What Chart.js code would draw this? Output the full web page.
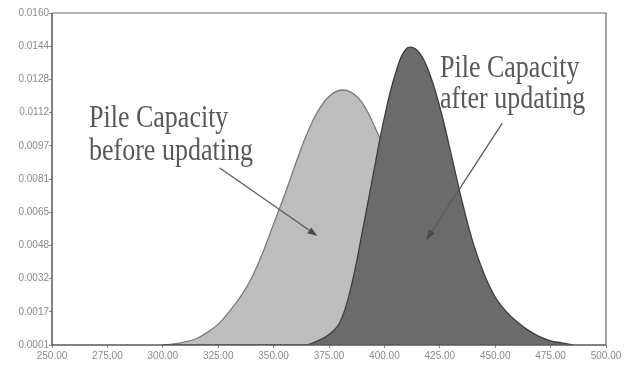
<!DOCTYPE html>
<html>
<head>
<meta charset="utf-8">
<script src="https://cdn.jsdelivr.net/npm/chart.js@4/dist/chart.umd.min.js"></script>
<style>
  html, body { margin: 0; padding: 0; background: #ffffff; }
  #wrap { width: 627px; height: 369px; position: relative; }
</style>
</head>
<body>
<div id="wrap"><canvas id="c" width="627" height="369"></canvas></div>
<script>
// Pile capacity (kN) sample points shared by both density curves
const capacity = [300, 305, 310, 315, 320, 325, 330, 335, 340, 345, 350, 355, 360, 365, 370, 375,
                  380, 385, 390, 395, 400, 405, 410, 415, 420, 425, 430, 435, 440, 445, 450, 455,
                  460, 465, 470, 475, 480, 485];

// Probability density before updating
const densityBefore = [0.0001, 0.00015, 0.00025, 0.0004, 0.0007, 0.0011, 0.0017, 0.0024, 0.0033, 0.0045,
                       0.0059, 0.0073, 0.0088, 0.0102, 0.0113, 0.0120, 0.0123, 0.0122, 0.0117, 0.0107,
                       0.0095, 0.0081, 0.0067, 0.0053, 0.0040, 0.0029, 0.0021, 0.0014, 0.0009, 0.0006,
                       0.0004, 0.0002, 0.0001, 0.0001, 0.0001, 0.0001, 0.0001, 0.0001];

// Probability density after updating
const densityAfter = [0.0001, 0.0001, 0.0001, 0.0001, 0.0001, 0.0001, 0.0001, 0.0001, 0.0001, 0.0001,
                      0.0001, 0.0001, 0.0001, 0.0001, 0.0003, 0.0006, 0.0012, 0.0029, 0.0055, 0.0083,
                      0.0110, 0.0131, 0.0143, 0.0142, 0.0132, 0.0115, 0.0093, 0.0070, 0.0050, 0.0035,
                      0.0024, 0.0017, 0.0012, 0.0008, 0.0005, 0.0003, 0.0002, 0.0001];

// Vertical axis labels, bottom to top
const yTickLabels = ['0.0001', '0.0017', '0.0032', '0.0048', '0.0065', '0.0081',
                     '0.0097', '0.0112', '0.0128', '0.0144', '0.0160'];

const Y_MIN = 0.0001, Y_MAX = 0.0160;
const X_MIN = 250, X_MAX = 500, X_STEP = 25;

const toPoints = (ys) => capacity.map((x, i) => ({ x: x, y: ys[i] }));

// Callout texts with their anchor (data coordinates) and arrows
const callouts = [
  { lines: ['Pile Capacity', 'before updating'], x: 266.7, y: 0.01054, gap: 33,
    arrow: { from: [325.7, 0.00858], to: [369.8, 0.00532] } },
  { lines: ['Pile Capacity', 'after updating'], x: 425.1, y: 0.01294, gap: 31,
    arrow: { from: [453.2, 0.01073], to: [418.9, 0.00513] } }
];

const frame = {
  id: 'frame',
  afterDraw(chart) {
    const { ctx, chartArea: a } = chart;
    ctx.save();
    ctx.strokeStyle = '#6a6a6a';
    ctx.lineWidth = 1.2;
    ctx.beginPath();
    ctx.moveTo(a.left, a.top);
    ctx.lineTo(a.right, a.top);
    ctx.lineTo(a.right, a.bottom);
    ctx.stroke();
    ctx.strokeStyle = '#5a5a5a';
    ctx.lineWidth = 1.5;
    ctx.beginPath();
    ctx.moveTo(a.left, a.top);
    ctx.lineTo(a.left, a.bottom);
    ctx.lineTo(a.right, a.bottom);
    ctx.stroke();
    ctx.restore();
  }
};

const calloutText = {
  id: 'calloutText',
  beforeDatasetsDraw(chart) {
    const { ctx, scales: { x, y } } = chart;
    ctx.save();
    ctx.fillStyle = '#585858';
    ctx.font = '26px "Liberation Serif", "Times New Roman", serif';
    ctx.textAlign = 'left';
    ctx.textBaseline = 'alphabetic';
    callouts.forEach(c => {
      const px = x.getPixelForValue(c.x);
      const py = y.getPixelForValue(c.y);
      c.lines.forEach((t, i) => {
        ctx.save();
        ctx.translate(px, py + i * c.gap);
        ctx.scale(1, 1.2);
        ctx.fillText(t, 0, 0);
        ctx.restore();
      });
    });
    ctx.restore();
  }
};

const calloutArrows = {
  id: 'calloutArrows',
  afterDatasetsDraw(chart) {
    const { ctx, scales: { x, y } } = chart;
    ctx.save();
    ctx.strokeStyle = '#5c5c5c';
    ctx.fillStyle = '#4a4a4a';
    ctx.lineWidth = 1.3;
    callouts.forEach(c => {
      const x1 = x.getPixelForValue(c.arrow.from[0]), y1 = y.getPixelForValue(c.arrow.from[1]);
      const x2 = x.getPixelForValue(c.arrow.to[0]), y2 = y.getPixelForValue(c.arrow.to[1]);
      const ang = Math.atan2(y2 - y1, x2 - x1);
      const len = 10, half = 3.5;
      const bx = x2 - len * Math.cos(ang), by = y2 - len * Math.sin(ang);
      ctx.beginPath();
      ctx.moveTo(x1, y1);
      ctx.lineTo(bx, by);
      ctx.stroke();
      ctx.beginPath();
      ctx.moveTo(x2, y2);
      ctx.lineTo(bx + half * Math.sin(ang), by - half * Math.cos(ang));
      ctx.lineTo(bx - half * Math.sin(ang), by + half * Math.cos(ang));
      ctx.closePath();
      ctx.fill();
    });
    ctx.restore();
  }
};

new Chart(document.getElementById('c'), {
  type: 'line',
  data: {
    datasets: [
      {
        label: 'Pile Capacity after updating',
        data: toPoints(densityAfter),
        borderColor: '#3e3e3e',
        backgroundColor: '#6b6b6b',
        borderWidth: 1.3,
        fill: 'start',
        pointRadius: 0,
        tension: 0.4
      },
      {
        label: 'Pile Capacity before updating',
        data: toPoints(densityBefore),
        borderColor: '#7c7c7c',
        backgroundColor: '#bdbdbd',
        borderWidth: 1.3,
        fill: 'start',
        pointRadius: 0,
        tension: 0.4
      }
    ]
  },
  options: {
    responsive: false,
    animation: false,
    layout: { padding: { top: 13, right: 21, left: 0, bottom: 0 } },
    plugins: { legend: { display: false }, tooltip: { enabled: false } },
    scales: {
      x: {
        type: 'linear',
        min: X_MIN,
        max: X_MAX,
        afterBuildTicks(scale) {
          const t = [];
          for (let v = X_MIN; v <= X_MAX; v += X_STEP) t.push({ value: v });
          scale.ticks = t;
        },
        afterFit(scale) { scale.height = 24; },
        border: { display: false },
        grid: { display: true, drawOnChartArea: false, drawTicks: true, tickLength: 3, color: '#8a8a8a' },
        ticks: {
          maxRotation: 0,
          autoSkip: false,
          padding: 2,
          color: '#8a8a8a',
          font: { family: '"Liberation Sans", Arial, sans-serif', size: 10 },
          callback: (v) => Number(v).toFixed(2)
        }
      },
      y: {
        type: 'linear',
        min: Y_MIN,
        max: Y_MAX,
        afterBuildTicks(scale) {
          const n = yTickLabels.length - 1;
          scale.ticks = yTickLabels.map((_, i) => ({ value: Y_MIN + (Y_MAX - Y_MIN) * i / n }));
        },
        afterFit(scale) { scale.width = 52; },
        border: { display: false },
        grid: { display: true, drawOnChartArea: false, drawTicks: true, tickLength: 3, color: '#8a8a8a' },
        ticks: {
          autoSkip: false,
          padding: 0,
          color: '#8a8a8a',
          font: { family: '"Liberation Sans", Arial, sans-serif', size: 10 },
          callback: (v, i) => yTickLabels[i]
        }
      }
    }
  },
  plugins: [calloutText, calloutArrows, frame]
});
</script>
</body>
</html>
